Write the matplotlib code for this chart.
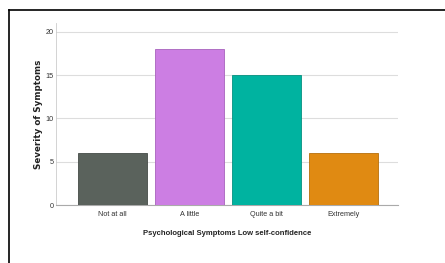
import matplotlib.pyplot as plt
from matplotlib.lines import Line2D

categories = ["Not at all", "A little", "Quite a bit", "Extremely"]
values = [6, 18, 15, 6]
colors = ["#5a625c", "#cc7ee3", "#00b3a0", "#e08a12"]
edges = ["#454b47", "#a862bd", "#05917f", "#b66f0b"]
yticks = [0, 5, 10, 15, 20]

plt.rcParams['font.family'] = ['Liberation Sans', 'DejaVu Sans']

fig = plt.figure(figsize=(4.45, 2.63), dpi=100)
ax = fig.add_axes([0.126, 0.2205, 0.768, 0.692])

x = range(len(categories))
ax.bar(x, values, width=0.9, color=colors, edgecolor=edges, linewidth=0.6, zorder=3)

ax.set_xlim(-0.73, 3.71)
ax.set_ylim(0, 21)
ax.set_yticks(yticks)
ax.set_xticks(list(x))
ax.set_xticklabels(categories)
ax.tick_params(axis='both', length=0, labelsize=5.2, colors='#333333')
ax.tick_params(axis='y', pad=2)
ax.tick_params(axis='x', pad=4)
ax.grid(axis='y', color='#dddddd', linewidth=0.8, zorder=0)

for s in ['top', 'right']:
    ax.spines[s].set_visible(False)
ax.spines['left'].set_color('#cccccc')
ax.spines['left'].set_linewidth(0.6)
ax.spines['bottom'].set_color('#aaaaaa')
ax.spines['bottom'].set_linewidth(0.8)

ax.set_ylabel("Severity of Symptoms", fontsize=6.3, fontweight='bold', labelpad=1.5,
              family=['DejaVu Sans'], color='#222222')
ax.set_xlabel("Psychological Symptoms Low self-confidence", fontsize=5.5, fontweight='bold',
              labelpad=9, color='#222222')

# black frame at top and left edges
fig.add_artist(Line2D([9/445, 1], [1 - 10/263, 1 - 10/263], color='black', linewidth=1.2))
fig.add_artist(Line2D([9/445, 9/445], [0, 1 - 10/263], color='black', linewidth=1.2))

fig.savefig("out.png", dpi=100)
